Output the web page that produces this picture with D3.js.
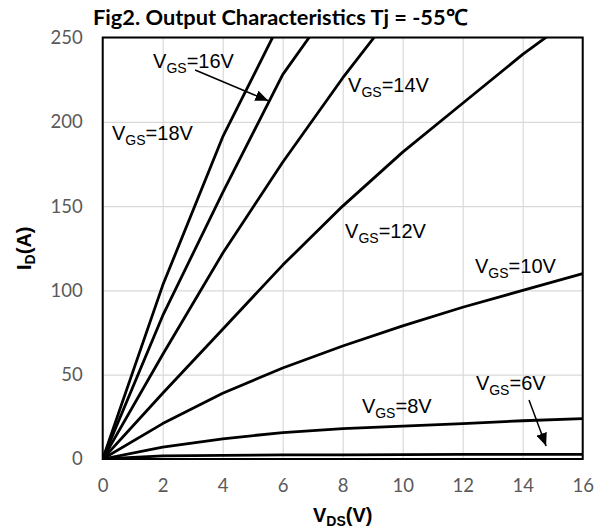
<!DOCTYPE html>
<html>
<head>
<meta charset="utf-8">
<script src="https://cdn.jsdelivr.net/npm/d3@7"></script>
<style>
  body { margin: 0; background: #fff; }
  svg { display: block; }
</style>
</head>
<body>
<svg width="603" height="532"></svg>
<script>
var width = 603, height = 532;
var margin = { top: 37.5, right: 20.3, bottom: 73, left: 102.7 };

// VDS sample points (V)
var vds = [0, 2, 4, 6, 8, 10, 12, 14, 16];

// ID (A) per gate voltage
var id18 = [0, 103, 191, 262];
var id16 = [0, 85, 158, 228, 278];
var id14 = [0, 62, 122, 176, 226, 272];
var id12 = [0, 39, 77, 115, 150, 182, 211, 240, 266];
var id10 = [0, 21, 39, 54, 67, 79, 90, 100, 110];
var id8 = [0, 7, 12, 15.7, 18, 19.5, 21, 22.7, 24];
var id6 = [0, 1.8, 2.2, 2.4, 2.5, 2.6, 2.7, 2.75, 2.8];

var xTicks = [0, 2, 4, 6, 8, 10, 12, 14, 16];
var yTicks = [0, 50, 100, 150, 200, 250];

var series = [id18, id16, id14, id12, id10, id8, id6];

// curve labels: [number, VDS, ID]
var labelVgs = ["16", "18", "14", "12", "10", "8", "6"];
var labelX = [1.68, 0.31, 8.18, 8.08, 12.41, 8.64, 12.44];
var labelY = [231.9, 189.2, 217.7, 131.1, 110.3, 27.3, 40.9];

// arrows: from -> to (VDS, ID)
var arrows = [
  { x1: 3.08, y1: 230.7, x2: 5.52, y2: 212.5 },
  { x1: 14.21, y1: 35, x2: 14.78, y2: 7.7 }
];

var svg = d3.select("svg");
var w = width - margin.left - margin.right;
var h = height - margin.top - margin.bottom;

var x = d3.scaleLinear().domain([0, 16]).range([0, w]);
var y = d3.scaleLinear().domain([0, 250]).range([h, 0]);

var defs = svg.append("defs");
defs.append("clipPath").attr("id", "plot")
  .append("rect").attr("width", w).attr("height", h);
defs.append("marker")
  .attr("id", "head")
  .attr("viewBox", "0 0 13 11")
  .attr("refX", 13).attr("refY", 5.5)
  .attr("markerWidth", 13).attr("markerHeight", 11)
  .attr("markerUnits", "userSpaceOnUse")
  .attr("orient", "auto")
  .append("path").attr("d", "M0,0 L13,5.5 L0,11 Z").attr("fill", "#000");

var g = svg.append("g").attr("transform", "translate(" + margin.left + "," + margin.top + ")");

// gridlines
g.append("g").attr("class", "grid")
  .call(d3.axisBottom(x).tickValues(xTicks).tickSize(h).tickFormat(""))
  .call(function(s) {
    s.select(".domain").remove();
    s.selectAll("line").attr("stroke", "#d9d9d9").attr("stroke-width", 1.2);
  });
g.append("g").attr("class", "grid")
  .call(d3.axisLeft(y).tickValues(yTicks).tickSize(-w).tickFormat(""))
  .call(function(s) {
    s.select(".domain").remove();
    s.selectAll("line").attr("stroke", "#d9d9d9").attr("stroke-width", 1.2);
  });

// tick labels
g.append("g")
  .attr("transform", "translate(0," + h + ")")
  .call(d3.axisBottom(x).tickValues(xTicks).tickSize(0).tickPadding(20))
  .call(function(s) {
    s.select(".domain").remove();
    s.selectAll("text").attr("fill", "#595959")
      .style("font-family", "Lato, sans-serif").style("font-size", "18.5px");
  });
g.append("g")
  .call(d3.axisLeft(y).tickValues(yTicks).tickSize(0).tickPadding(20))
  .call(function(s) {
    s.select(".domain").remove();
    s.selectAll("text").attr("fill", "#595959")
      .style("font-family", "Lato, sans-serif").style("font-size", "18.5px");
  });

// curves
var line = d3.line()
  .x(function(d, i) { return x(vds[i]); })
  .y(function(d) { return y(d); });

g.append("g").attr("clip-path", "url(#plot)")
  .selectAll("path")
  .data(series)
  .enter()
  .append("path")
  .attr("fill", "none")
  .attr("stroke", "#000")
  .attr("stroke-width", 2.8)
  .attr("stroke-linejoin", "round")
  .attr("d", line);

// frame
g.append("rect")
  .attr("width", w).attr("height", h)
  .attr("fill", "none").attr("stroke", "#000").attr("stroke-width", 2);

// arrows
g.selectAll(".arrow")
  .data(arrows)
  .enter()
  .append("line")
  .attr("class", "arrow")
  .attr("x1", function(d) { return x(d.x1); })
  .attr("y1", function(d) { return y(d.y1); })
  .attr("x2", function(d) { return x(d.x2); })
  .attr("y2", function(d) { return y(d.y2); })
  .attr("stroke", "#000").attr("stroke-width", 1.5)
  .attr("marker-end", "url(#head)");

// curve labels
var lab = g.selectAll(".lab")
  .data(labelVgs)
  .enter()
  .append("text")
  .attr("class", "lab")
  .attr("x", function(d, i) { return x(labelX[i]); })
  .attr("y", function(d, i) { return y(labelY[i]); })
  .style("font-family", "'Liberation Sans', Arial, sans-serif")
  .style("font-size", "20px");
lab.append("tspan").text("V");
lab.append("tspan").attr("dy", 5).style("font-size", "14px").text("GS");
lab.append("tspan").attr("dy", -5).text(function(d) { return "=" + d + "V"; });

// title
svg.append("text")
  .attr("x", 93).attr("y", 25)
  .style("font-family", "Lato, sans-serif")
  .style("font-weight", "bold")
  .style("font-size", "21.8px")
  .text("Fig2. Output Characteristics Tj = -55\u2103");

// axis titles
var xt = svg.append("text")
  .attr("x", margin.left + w / 2).attr("y", 522)
  .attr("text-anchor", "middle")
  .style("font-family", "'Liberation Sans', Arial, sans-serif")
  .style("font-weight", "bold")
  .style("font-size", "20px");
xt.append("tspan").text("V");
xt.append("tspan").attr("dy", 4).style("font-size", "14px").text("DS");
xt.append("tspan").attr("dy", -4).text("(V)");

var yt = svg.append("text")
  .attr("transform", "translate(31," + (margin.top + h / 2) + ") rotate(-90)")
  .attr("text-anchor", "middle")
  .style("font-family", "'Liberation Sans', Arial, sans-serif")
  .style("font-weight", "bold")
  .style("font-size", "20px");
yt.append("tspan").text("I");
yt.append("tspan").attr("dy", 4).style("font-size", "14px").text("D");
yt.append("tspan").attr("dy", -4).text("(A)");
</script>
</body>
</html>
